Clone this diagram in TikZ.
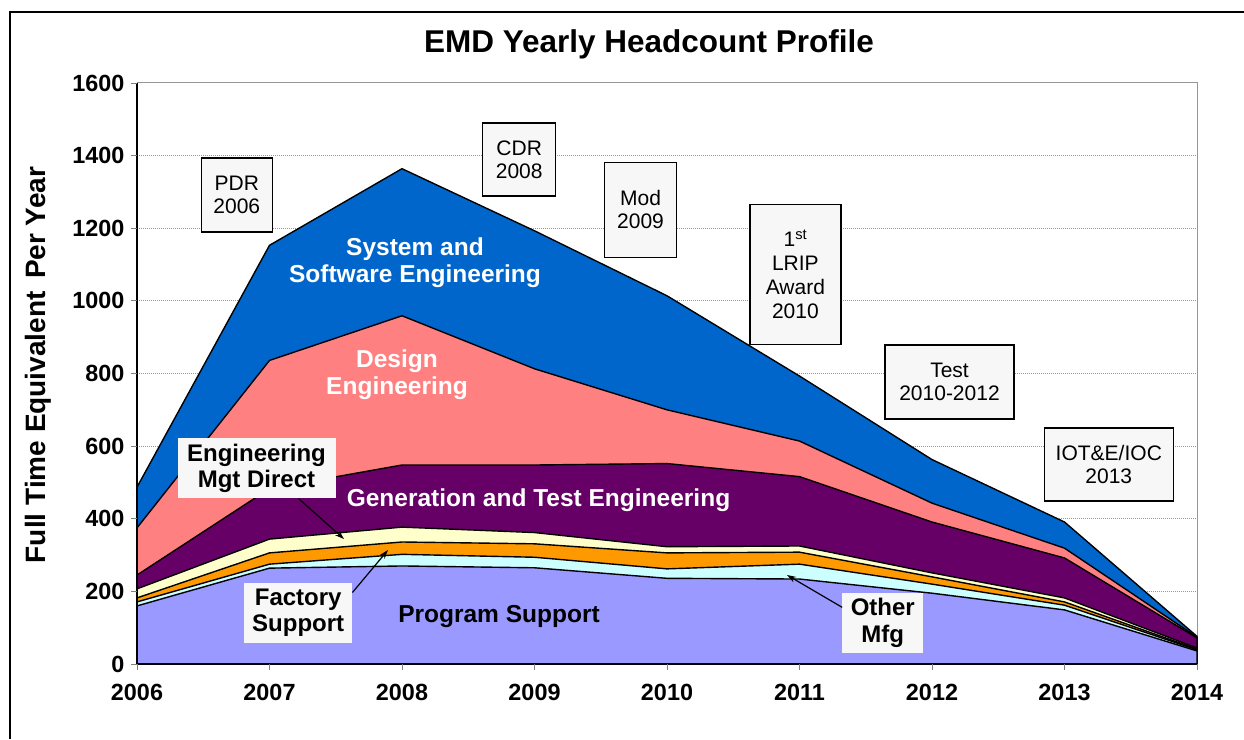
\documentclass[tikz,border=0pt]{standalone}
\usepackage{fontspec}
\setmainfont{Liberation Sans}
\usetikzlibrary{arrows.meta}
\definecolor{progc}{RGB}{153,153,255}
\definecolor{othc}{RGB}{204,255,255}
\definecolor{facc}{RGB}{255,153,0}
\definecolor{mgtc}{RGB}{255,255,204}
\definecolor{genc}{RGB}{102,0,102}
\definecolor{desc}{RGB}{255,128,128}
\definecolor{sysc}{RGB}{0,102,204}
\definecolor{boxc}{RGB}{247,247,247}
\definecolor{gridc}{RGB}{150,150,150}
\begin{document}
\begin{tikzpicture}[x=1pt,y=-1pt,
  area/.style={draw=black,line width=1.4pt,line join=round},
  milestone/.style={draw=black,line width=1.4pt,fill=boxc,align=center,
    font=\fontsize{21}{23}\selectfont,inner sep=0pt},
  callout/.style={fill=boxc,align=center,inner sep=0pt,
    font=\bfseries\fontsize{24}{26.7}\selectfont},
  arealabel/.style={align=center,text=white,
    font=\bfseries\fontsize{24.5}{27}\selectfont},
  ticklabel/.style={font=\bfseries\fontsize{23.4}{26}\selectfont},
  pointer/.style={draw=black,line width=1.2pt,-{Stealth[length=9pt,width=6pt]}}]
\useasboundingbox (0,0) rectangle (1244,739);
\fill[white] (0,0) rectangle (1244,739);
% outer frame
\draw[line width=2pt] (10,739) -- (10,12) -- (1244,12);
% title
\node (title) at (649,44) {\bfseries\fontsize{31.5}{34}\selectfont EMD Yearly Headcount Profile};
% y-axis title
\node[rotate=90,font=\bfseries\fontsize{28}{30}\selectfont] (ytitle) at (38,365) {Full Time Equivalent\, Per Year};
\begin{scope}[shift={(137pt,-664pt)},x=132.5pt,y=0.363125pt]
  \foreach \v in {200,400,...,1400}
    \draw[gridc,line width=0.9pt,dash pattern=on 1pt off 1pt] (0,\v) -- (8,\v);
  \draw[gridc,line width=1pt] (0,1600) -- (8,1600) -- (8,0);
  % stacked areas
  \filldraw[area,fill=sysc] (0,0) -- (0,487) -- (1,1153) -- (2,1364) -- (3,1193) -- (4,1014) -- (5,793) -- (6,563) -- (7,391) -- (8,76) -- (8,0) -- cycle;
  \filldraw[area,fill=desc] (0,0) -- (0,375) -- (1,836) -- (2,959) -- (3,813) -- (4,700) -- (5,614) -- (6,443) -- (7,319) -- (8,74) -- (8,0) -- cycle;
  \filldraw[area,fill=genc] (0,0) -- (0,245) -- (1,483) -- (2,548) -- (3,548) -- (4,552) -- (5,516) -- (6,391) -- (7,292) -- (8,72) -- (8,0) -- cycle;
  \filldraw[area,fill=mgtc] (0,0) -- (0,207) -- (1,344) -- (2,377) -- (3,362) -- (4,323) -- (5,325) -- (6,251) -- (7,182) -- (8,44) -- (8,0) -- cycle;
  \filldraw[area,fill=facc] (0,0) -- (0,182) -- (1,306) -- (2,336) -- (3,331) -- (4,306) -- (5,308) -- (6,240) -- (7,171) -- (8,41) -- (8,0) -- cycle;
  \filldraw[area,fill=othc] (0,0) -- (0,171) -- (1,275) -- (2,302) -- (3,294) -- (4,262) -- (5,275) -- (6,220) -- (7,162) -- (8,39) -- (8,0) -- cycle;
  \filldraw[area,fill=progc] (0,0) -- (0,160) -- (1,264) -- (2,270) -- (3,265) -- (4,236) -- (5,234) -- (6,195) -- (7,149) -- (8,36) -- (8,0) -- cycle;
  % axes
  \draw[line width=1.4pt] (0,1600) -- (0,0) -- (8,0);
  \foreach \v in {0,200,...,1600} {
    \draw[line width=0.8pt,gray] (0,\v) -- ++(-6pt,0pt);
    \node[ticklabel,anchor=east] (yl\v) at ([xshift=-9pt]0,\v) {\v};
  }
  \foreach \i/\yr in {0/2006,1/2007,2/2008,3/2009,4/2010,5/2011,6/2012,7/2013,8/2014} {
    \draw[line width=0.8pt,gray] (\i,0) -- ++(0pt,-6pt);
    \node[ticklabel] (xl\yr) at ([yshift=-28pt]\i,0) {\yr};
  }
\end{scope}
% area labels
\node[arealabel] (sys) at (415,263) {System and\\Software Engineering};
\node[arealabel] (des) at (397,374.5) {Design\\Engineering};
\node[arealabel] (gen) at (538.5,500) {Generation and Test Engineering};
\node[arealabel,text=black] (prog) at (499,617) {Program Support};
% milestone boxes
\node[milestone,minimum width=71pt,minimum height=74pt] (pdr) at (236.8,194.9) {PDR\\2006};
\node[milestone,minimum width=73pt,minimum height=73pt] (cdr) at (519.2,159.4) {CDR\\2008};
\node[milestone,minimum width=72pt,minimum height=95pt] (mod) at (640.5,209.7) {Mod\\2009};
\node[milestone,minimum width=91pt,minimum height=140pt,font=\fontsize{21}{23.8}\selectfont] (lrip) at (795.4,274.2) {1\textsuperscript{st}\\LRIP\\Award\\2010};
\node[milestone,minimum width=129pt,minimum height=74pt] (test) at (949.5,382) {Test\\2010-2012};
\node[milestone,minimum width=129pt,minimum height=73pt] (iot) at (1108.8,464.4) {IOT\&E/IOC\\2013};
% callouts
\node[callout,minimum width=158pt,minimum height=60pt] (mgt) at (256.5,468.3) {Engineering\\Mgt Direct};
\node[callout,minimum width=108pt,minimum height=60pt] (fac) at (298.2,612.7) {Factory\\Support};
\node[callout,minimum width=81pt,minimum height=60pt] (oth) at (882.8,622.5) {Other\\Mfg};
\coordinate (mgtT) at (344,539);
\coordinate (facT) at (388,550);
\coordinate (othT) at (787,575);
\draw[pointer] ([xshift=42pt]mgt.south) -- (mgtT);
\draw[pointer] ([yshift=-10pt]fac.north east) -- (facT);
\draw[pointer] ([yshift=-15pt]oth.north west) -- (othT);
\end{tikzpicture}
\end{document}
